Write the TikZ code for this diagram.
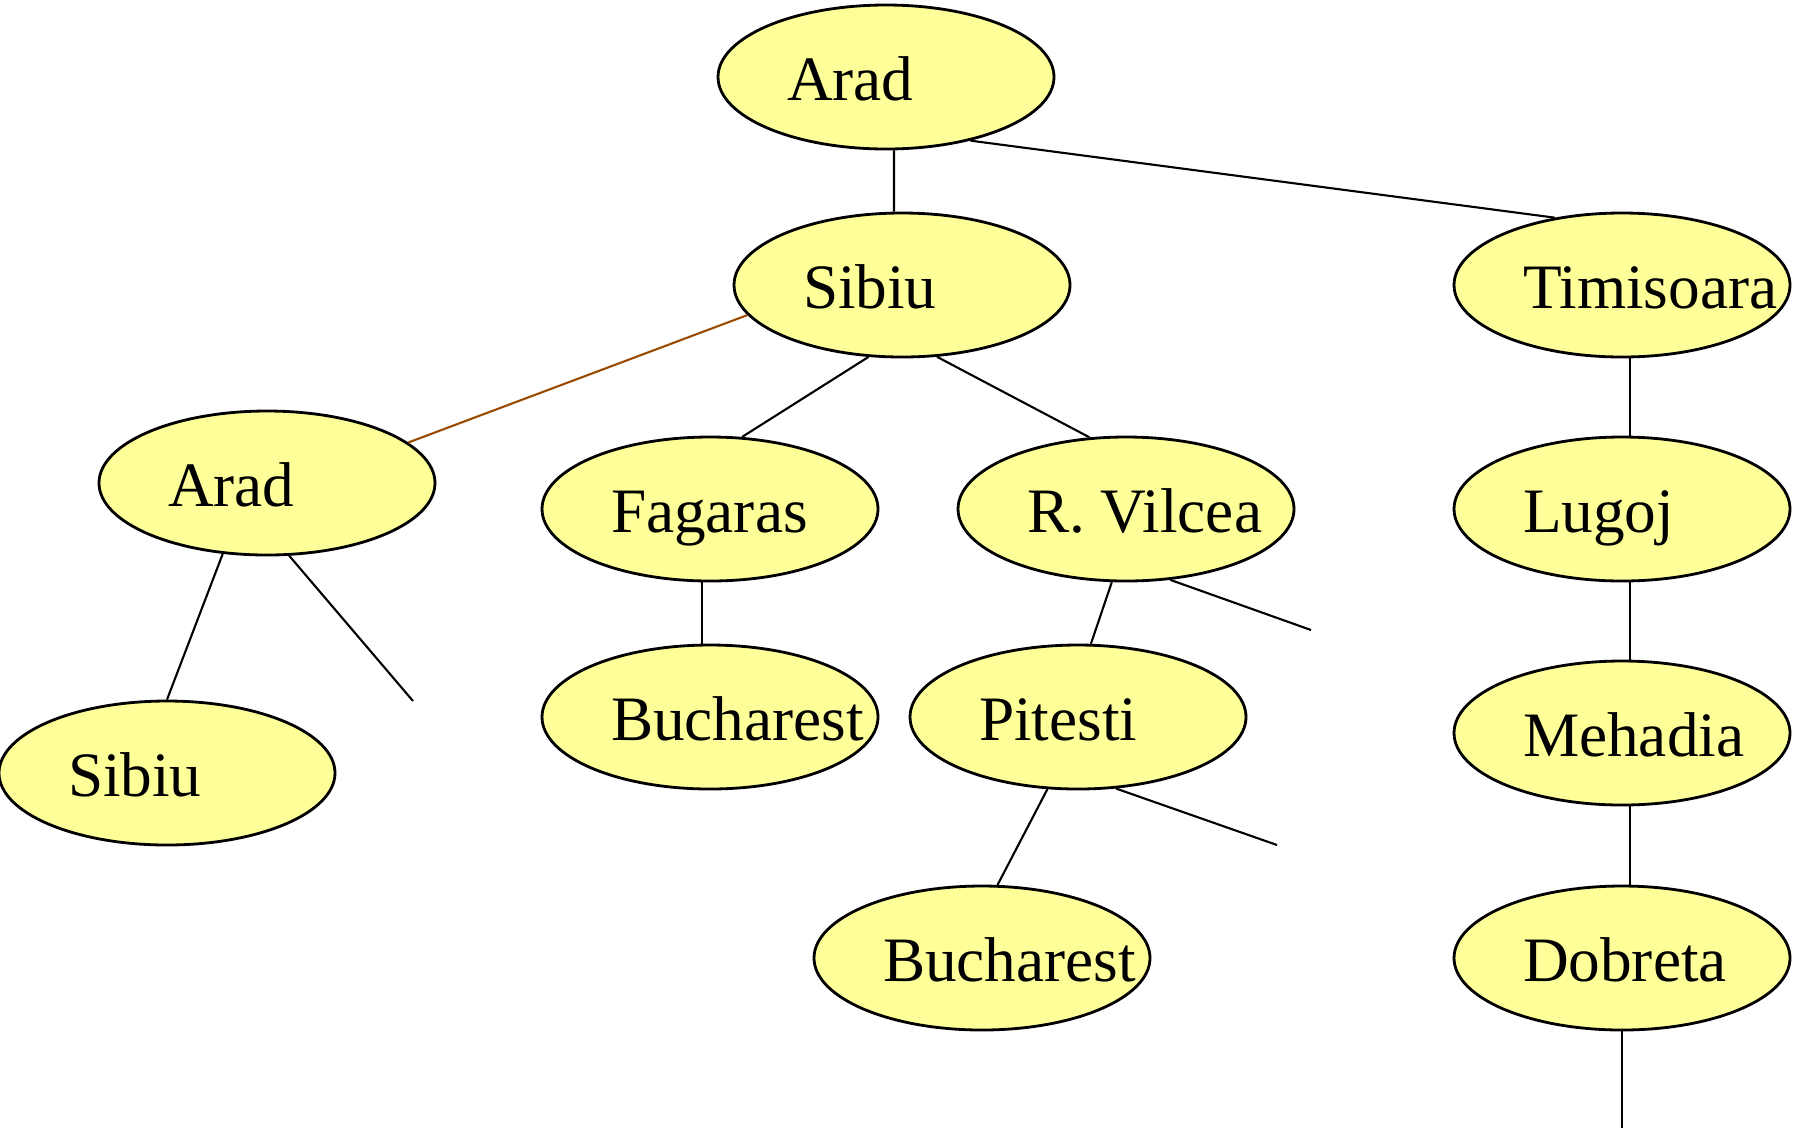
\documentclass[tikz,border=0pt]{standalone}
\usepackage{fontspec}
\setmainfont{Liberation Serif}
\usetikzlibrary{shapes.geometric}
\definecolor{cityfill}{RGB}{255,255,153}
\definecolor{backedge}{RGB}{153,76,0}
\begin{document}
\begin{tikzpicture}[line width=0.6pt,
  city/.style={draw,ellipse,fill=cityfill,line width=0.8pt,inner sep=0pt,
    minimum width=3.36cm,minimum height=1.44cm,
    text height=4.6mm,text depth=0mm,font=\fontsize{18}{22}\selectfont},
  back/.style={draw=backedge}]
  \useasboundingbox (0,0) rectangle (17.96,-11.31);
  \newcommand{\cityname}[1]{\makebox[1.98cm][l]{#1}}
  \node[city] (arad) at (8.86,-0.77) {\cityname{Arad}};
  \node[city] (sibiu) at (9.02,-2.85) {\cityname{Sibiu}};
  \node[city] (timisoara) at (16.22,-2.85) {\cityname{Timisoara}};
  \node[city] (aradtwo) at (2.67,-4.83) {\cityname{Arad}};
  \node[city] (fagaras) at (7.10,-5.09) {\cityname{Fagaras}};
  \node[city] (vilcea) at (11.26,-5.09) {\cityname{R. Vilcea}};
  \node[city] (lugoj) at (16.22,-5.09) {\cityname{Lugoj}};
  \node[city] (sibiutwo) at (1.67,-7.73) {\cityname{Sibiu}};
  \node[city] (bucharest) at (7.10,-7.17) {\cityname{Bucharest}};
  \node[city] (pitesti) at (10.78,-7.17) {\cityname{Pitesti}};
  \node[city] (mehadia) at (16.22,-7.33) {\cityname{Mehadia}};
  \node[city] (buchtwo) at (9.82,-9.58) {\cityname{Bucharest}};
  \node[city] (dobreta) at (16.22,-9.58) {\cityname{Dobreta}};
  % unexpanded branches
  \coordinate (aradmore) at (4.13,-7.01);
  \coordinate (vilceamore) at (13.11,-6.30);
  \coordinate (pitestimore) at (12.77,-8.45);
  \coordinate (dobretamore) at (16.22,-11.28);
  \draw ([xshift=0.8mm]arad.south) -- ([xshift=-0.8mm]sibiu.north);
  \draw (arad.-37) -- (timisoara.135);
  \draw[back] (sibiu.-169) -- (aradtwo.16);
  \draw (sibiu.-115) -- (fagaras.66);
  \draw (sibiu.-64) -- (vilcea.117);
  \draw ([xshift=0.8mm]timisoara.south) -- ([xshift=0.8mm]lugoj.north);
  \draw (aradtwo.-122) -- (sibiutwo.north);
  \draw (aradtwo.-73) -- (aradmore);
  \draw ([xshift=-0.8mm]fagaras.south) -- ([xshift=-0.8mm]bucharest.north);
  \draw (vilcea.-101) -- (pitesti.80);
  \draw (vilcea.-58) -- (vilceamore);
  \draw ([xshift=0.8mm]lugoj.south) -- ([xshift=0.8mm]mehadia.north);
  \draw (pitesti.-113) -- (buchtwo.78);
  \draw (pitesti.-62) -- (pitestimore);
  \draw ([xshift=0.8mm]mehadia.south) -- ([xshift=0.8mm]dobreta.north);
  \draw (dobreta.south) -- (dobretamore);
\end{tikzpicture}
\end{document}
